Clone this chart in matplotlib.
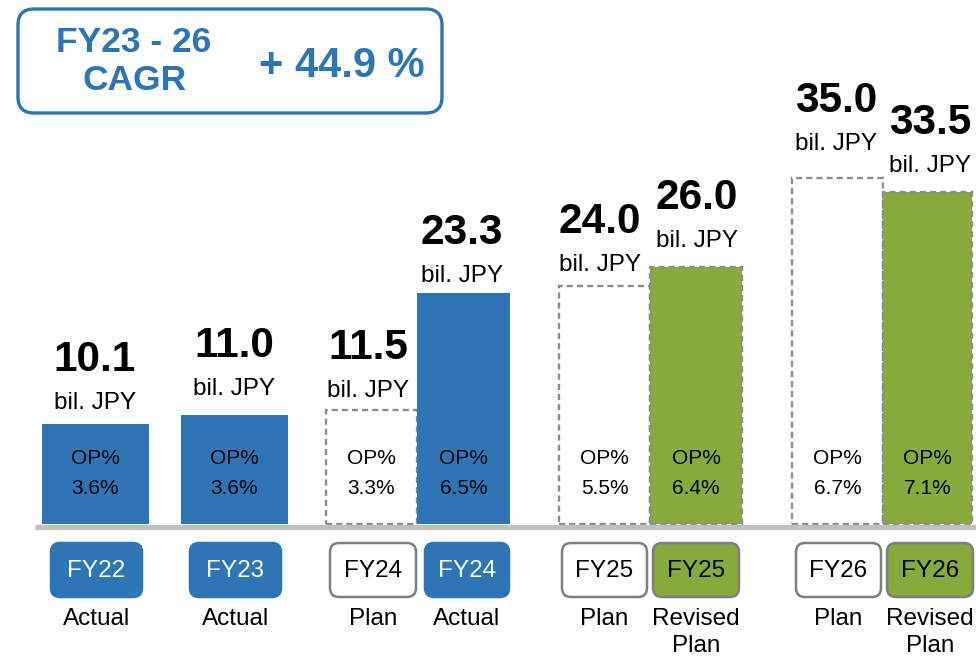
import matplotlib
matplotlib.use("Agg")
import matplotlib.pyplot as plt
from matplotlib.patches import FancyBboxPatch

# operating profit by year (bil. JPY) and OP margin (%)
years = ["FY22", "FY23", "FY24", "FY24", "FY25", "FY25", "FY26", "FY26"]
kinds = ["Actual", "Actual", "Plan", "Actual", "Plan", "Revised", "Plan", "Revised"]
kind_text = {"Actual": "Actual", "Plan": "Plan", "Revised": "Revised\nPlan"}
profit = [10.1, 11.0, 11.5, 23.3, 24.0, 26.0, 35.0, 33.5]
op_margin = [3.6, 3.6, 3.3, 6.5, 5.5, 6.4, 6.7, 7.1]
cagr_lines = ["FY23 - 26", "CAGR"]
cagr = 44.9

BLUE = "#2E75B6"
GREEN = "#86AA3C"
GRAY = "#8C8C8C"
fills = {"Actual": BLUE, "Plan": "white", "Revised": GREEN}

# layout (pixels)
W, H = 976, 657
base_row = 524
px_per_unit = 9.9
bar_x = [95.5, 234.5, 371.5, 463.5, 604.5, 696, 837.5, 927.5]
bar_w = [107, 107, 91, 93, 91, 92, 91, 89]
lab_x = [95, 234, 368, 462, 600, 697, 836, 930]
lab_gap = [15, 20, 13, 11, 15, 20, 27, 20]
box_x = [96.5, 235.5, 373, 467, 604.5, 696, 838.5, 930]
box_w = [91, 91, 86, 84, 85, 86, 85, 86]

sans = ["Liberation Sans", "DejaVu Sans"]

fig = plt.figure(figsize=(W / 100, H / 100), dpi=100)
ax = fig.add_axes([0, 0, 1, 1])
ax.set_xlim(0, W)
ax.set_ylim(-(H - base_row) / px_per_unit, base_row / px_per_unit)
ax.axis("off")

for i, k in enumerate(kinds):
    if k == "Actual":
        ax.bar(bar_x[i], profit[i], width=bar_w[i], color=fills[k], linewidth=0, zorder=2)
    else:
        ax.bar(bar_x[i], profit[i], width=bar_w[i], color=fills[k], edgecolor=GRAY,
               linewidth=1.7, linestyle=(0, (2.6, 1.7)), zorder=2)
    ax.annotate("bil. JPY", (lab_x[i], profit[i]), xytext=(0, lab_gap[i]),
                textcoords="offset pixels", ha="center", va="baseline",
                fontsize=17.5, family=sans)
    ax.annotate(f"{profit[i]:.1f}", (lab_x[i], profit[i]),
                xytext=(0, lab_gap[i] + 38), textcoords="offset pixels",
                ha="center", va="baseline", fontsize=30.5, fontweight="bold",
                family=sans)

# overlay in pixel coordinates
ov = fig.add_axes([0, 0, 1, 1])
ov.set_xlim(0, W)
ov.set_ylim(H, 0)
ov.axis("off")
ov.patch.set_alpha(0)

ov.plot([35, W], [526.5, 526.5], color="#BFBFBF", lw=3.8, solid_capstyle="butt", zorder=5)

for i, k in enumerate(kinds):
    ov.text(bar_x[i], 459, "OP%", ha="center", va="center", fontsize=15, family=sans)
    ov.text(bar_x[i], 488, f"{op_margin[i]:.1f}%", ha="center", va="center",
            fontsize=15, family=sans)
    edge = BLUE if k == "Actual" else "#7F7F7F"
    ov.add_patch(FancyBboxPatch((box_x[i] - box_w[i] / 2, 543), box_w[i], 54,
                                boxstyle="round,pad=0,rounding_size=9",
                                facecolor=fills[k], edgecolor=edge, lw=1.8))
    ov.text(box_x[i], 571, years[i], ha="center", va="center", fontsize=17.5,
            family=sans, color="white" if k == "Actual" else "black")
    ov.text(box_x[i], 608, kind_text[k], ha="center", va="top", fontsize=17.5,
            family=sans, linespacing=1.3)

# CAGR box
ov.add_patch(FancyBboxPatch((18, 9), 424, 104, boxstyle="round,pad=0,rounding_size=16",
                            facecolor="white", edgecolor=BLUE, lw=2.4))
ov.text(134, 42, cagr_lines[0], ha="center", va="center", fontsize=25.5,
        fontweight="bold", color=BLUE, family=sans)
ov.text(135, 81, cagr_lines[1], ha="center", va="center", fontsize=25.5,
        fontweight="bold", color=BLUE, family=sans)
ov.text(342, 66, f"+ {cagr:.1f} %", ha="center", va="center", fontsize=30,
        fontweight="bold", color=BLUE, family=sans)

fig.savefig("out.png", dpi=100)
